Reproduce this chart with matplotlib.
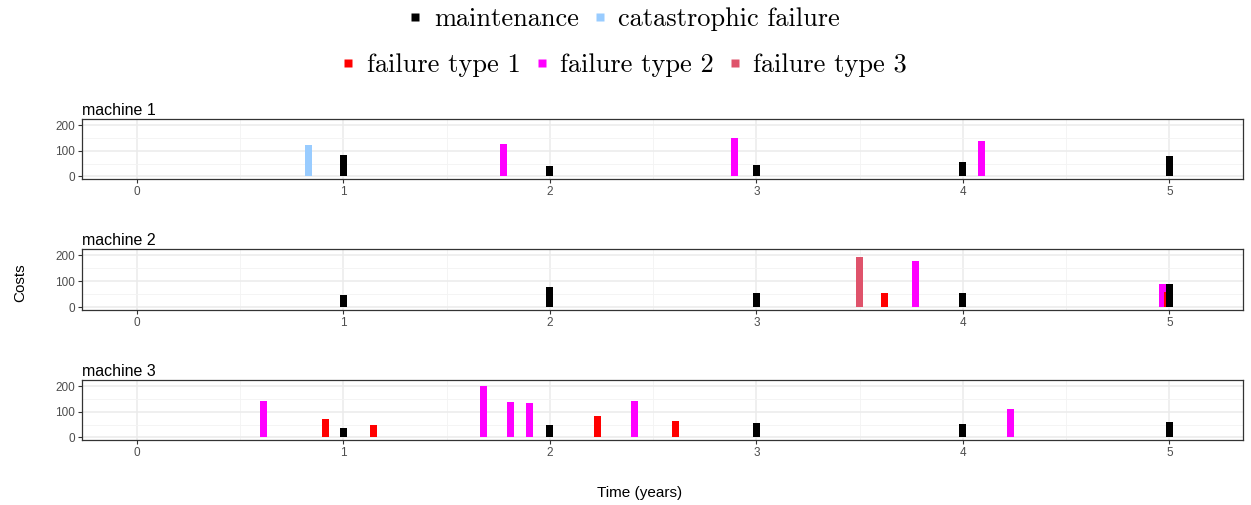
import matplotlib.pyplot as plt
from matplotlib.lines import Line2D
from matplotlib.ticker import MultipleLocator

# event data per machine: time (years), cost, type
m1_time = [0.83, 1.0, 1.775, 2.0, 2.893, 3.0, 4.0, 4.09, 5.0]
m1_cost = [122, 83, 129, 41, 150, 45, 57, 138, 80]
m1_type = ['cat', 'maint', 'f2', 'maint', 'f2', 'maint', 'maint', 'f2', 'maint']

m2_time = [1.0, 2.0, 3.0, 3.498, 3.62, 3.77, 4.0, 4.966, 4.99, 5.0]
m2_cost = [47, 78, 56, 195, 56, 179, 56, 91, 59, 91]
m2_type = ['maint', 'maint', 'maint', 'f3', 'f1', 'f2', 'maint', 'f2', 'f1', 'maint']

m3_time = [0.613, 0.913, 1.0, 1.145, 1.679, 1.808, 1.901, 2.0, 2.231, 2.409,
           2.608, 3.0, 4.0, 4.23, 5.0]
m3_cost = [142, 73, 38, 50, 200, 138, 135, 50, 85, 142, 65, 58, 54, 112, 62]
m3_type = ['f2', 'f1', 'maint', 'f1', 'f2', 'f2', 'f2', 'maint', 'f1', 'f2',
           'f1', 'maint', 'maint', 'f2', 'maint']

type_names = {'maint': 'maintenance', 'cat': 'catastrophic failure',
              'f1': 'failure type 1', 'f2': 'failure type 2', 'f3': 'failure type 3'}
colors = {'maint': 'black', 'cat': '#99CCFF', 'f1': '#FF0000',
          'f2': '#FF00FF', 'f3': '#DF536B'}
zorders = {'f2': 3, 'f3': 3, 'cat': 3, 'f1': 4, 'maint': 5}

machines = [('machine 1', m1_time, m1_cost, m1_type),
            ('machine 2', m2_time, m2_cost, m2_type),
            ('machine 3', m3_time, m3_cost, m3_type)]

W, H = 1251, 505
fig = plt.figure(figsize=(W / 100, H / 100), dpi=100)
plt.rcParams['font.family'] = ['Liberation Sans', 'DejaVu Sans']

# panel boxes in pixels: (top, bottom)
panels = [(119, 179), (249, 310), (380, 440)]
left, right = 82, 1243

for (title, t, c, typ), (top, bot) in zip(machines, panels):
    ax = fig.add_axes([left / W, 1 - bot / H, (right - left) / W, (bot - top) / H])
    for ti, ci, ki in zip(t, c, typ):
        ax.bar(ti, ci, width=0.034, color=colors[ki], zorder=zorders[ki])
    ax.set_xlim(-0.266, 5.356)
    ax.set_ylim(-10, 225)
    ax.set_xticks([0, 1, 2, 3, 4, 5])
    ax.set_yticks([0, 100, 200])
    ax.xaxis.set_minor_locator(MultipleLocator(0.5))
    ax.yaxis.set_minor_locator(MultipleLocator(50))
    ax.grid(True, which='major', color='#EBEBEB', linewidth=1.1, zorder=0)
    ax.grid(True, which='minor', color='#F3F3F3', linewidth=0.6, zorder=0)
    ax.set_axisbelow(True)
    ax.tick_params(axis='both', which='major', labelsize=8.5, colors='#333333',
                   labelcolor='#4D4D4D', length=3, width=0.8, pad=2)
    ax.tick_params(axis='both', which='minor', length=0)
    for s in ax.spines.values():
        s.set_color('#333333')
        s.set_linewidth(0.9)
    ax.set_title(title, loc='left', fontsize=11.5, pad=3)

fig.text(20 / W, 1 - 283 / H, 'Costs', rotation=90, ha='center', va='center', fontsize=11)
fig.text(640 / W, 1 - 493 / H, 'Time (years)', ha='center', va='center', fontsize=11)

# legends (two rows)
row1 = ['maint', 'cat']
row2 = ['f1', 'f2', 'f3']
for keys, ypix in [(row1, 19), (row2, 65)]:
    handles = [Line2D([], [], linestyle='none', marker='s', markersize=5.5,
                      markerfacecolor=colors[k], markeredgecolor='none') for k in keys]
    labels = [type_names[k] for k in keys]
    fig.legend(handles, labels, loc='center', bbox_to_anchor=(625 / W, 1 - ypix / H),
               ncol=len(keys), frameon=False, handlelength=0.4,
               handletextpad=0.5, columnspacing=0.6,
               prop={'family': 'cmr10', 'size': 19})

fig.savefig('out.png', dpi=100)
